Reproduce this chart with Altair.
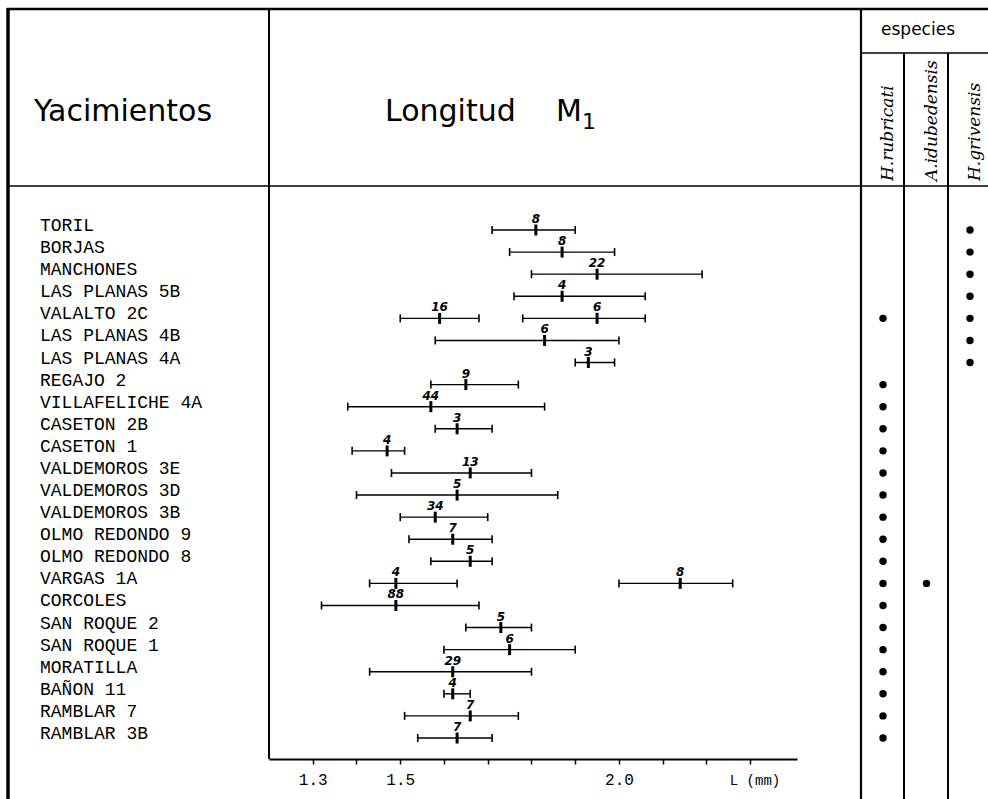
import altair as alt
import pandas as pd

# ---------------- data ----------------
sites = ["TORIL", "BORJAS", "MANCHONES", "LAS PLANAS 5B", "VALALTO 2C",
         "LAS PLANAS 4B", "LAS PLANAS 4A", "REGAJO 2", "VILLAFELICHE 4A",
         "CASETON 2B", "CASETON 1", "VALDEMOROS 3E", "VALDEMOROS 3D",
         "VALDEMOROS 3B", "OLMO REDONDO 9", "OLMO REDONDO 8", "VARGAS 1A",
         "CORCOLES", "SAN ROQUE 2", "SAN ROQUE 1", "MORATILLA", "BAÑON 11",
         "RAMBLAR 7", "RAMBLAR 3B"]

bar_site = ["TORIL", "BORJAS", "MANCHONES", "LAS PLANAS 5B", "VALALTO 2C",
            "VALALTO 2C", "LAS PLANAS 4B", "LAS PLANAS 4A", "REGAJO 2",
            "VILLAFELICHE 4A", "CASETON 2B", "CASETON 1", "VALDEMOROS 3E",
            "VALDEMOROS 3D", "VALDEMOROS 3B", "OLMO REDONDO 9", "OLMO REDONDO 8",
            "VARGAS 1A", "VARGAS 1A", "CORCOLES", "SAN ROQUE 2", "SAN ROQUE 1",
            "MORATILLA", "BAÑON 11", "RAMBLAR 7", "RAMBLAR 3B"]
bar_min = [1.71, 1.75, 1.80, 1.76, 1.50, 1.78, 1.58, 1.90, 1.57, 1.38, 1.58, 1.39, 1.48,
           1.40, 1.50, 1.52, 1.57, 1.43, 2.00, 1.32, 1.65, 1.60, 1.43, 1.60, 1.51, 1.54]
bar_mean = [1.81, 1.87, 1.95, 1.87, 1.59, 1.95, 1.83, 1.93, 1.65, 1.57, 1.63, 1.47, 1.66,
            1.63, 1.58, 1.62, 1.66, 1.49, 2.14, 1.49, 1.73, 1.75, 1.62, 1.62, 1.66, 1.63]
bar_max = [1.90, 1.99, 2.19, 2.06, 1.68, 2.06, 2.00, 1.99, 1.77, 1.83, 1.71, 1.51, 1.80,
           1.86, 1.70, 1.71, 1.71, 1.63, 2.26, 1.68, 1.80, 1.90, 1.80, 1.66, 1.77, 1.71]
bar_n = [8, 8, 22, 4, 16, 6, 6, 3, 9, 44, 3, 4, 13, 5, 34, 7, 5, 4, 8, 88, 5, 6, 29, 4, 7, 7]

species = ["H.rubricati", "A.idubedensis", "H.grivensis"]
rubricati_sites = ["VALALTO 2C", "REGAJO 2", "VILLAFELICHE 4A", "CASETON 2B", "CASETON 1",
                   "VALDEMOROS 3E", "VALDEMOROS 3D", "VALDEMOROS 3B", "OLMO REDONDO 9",
                   "OLMO REDONDO 8", "VARGAS 1A", "CORCOLES", "SAN ROQUE 2", "SAN ROQUE 1",
                   "MORATILLA", "BAÑON 11", "RAMBLAR 7", "RAMBLAR 3B"]
idubedensis_sites = ["VARGAS 1A"]
grivensis_sites = ["TORIL", "BORJAS", "MANCHONES", "LAS PLANAS 5B", "VALALTO 2C",
                   "LAS PLANAS 4B", "LAS PLANAS 4A"]

tick_values = [1.3, 1.4, 1.5, 1.6, 1.7, 1.8, 1.9, 2.0, 2.1, 2.2, 2.3]
tick_labels = [1.3, 1.5, 2.0]

# ---------------- tables ----------------
bars = pd.DataFrame({"site": bar_site, "lo": bar_min, "mean": bar_mean,
                     "hi": bar_max, "n": bar_n})
presence = pd.DataFrame(
    [{"site": s, "species": species[0]} for s in rubricati_sites]
    + [{"site": s, "species": species[1]} for s in idubedensis_sites]
    + [{"site": s, "species": species[2]} for s in grivensis_sites]
)
site_df = pd.DataFrame({"site": sites})
species_df = pd.DataFrame({"species": species})
one = pd.DataFrame({"k": [0]})

# ---------------- scales ----------------
xs = alt.Scale(domain=[1.2, 2.407], range=[269, 797], nice=False, zero=False)
ys = alt.Scale(type="point", domain=sites, range=[230, 738], padding=0)
ss = alt.Scale(type="point", domain=species, range=[883, 970], padding=0)

cond = " || ".join("abs(datum.value - %s) < 0.001" % v for v in tick_labels)
label_expr = "(" + cond + ") ? format(datum.value, '.1f') : ''"
xaxis = alt.Axis(values=tick_values, labelExpr=label_expr, tickSize=5, tickWidth=1.5,
                 domainWidth=2.2, domainColor="black", tickColor="black",
                 labelColor="black", labelFont="Liberation Mono", labelFontSize=16,
                 labelPadding=7, grid=False, title=None, labelFlush=False)

X_lo = alt.X("lo:Q", scale=xs, axis=xaxis)
Y_site = alt.Y("site:N", scale=ys, axis=None)

rng = alt.Chart(bars).mark_rule(color="black", strokeWidth=1.4).encode(
    x=X_lo, x2="hi:Q", y=Y_site)
cap_lo = alt.Chart(bars).mark_tick(color="black", orient="vertical", size=8, thickness=1.6,
                                   opacity=1).encode(x=X_lo, y=Y_site)
cap_hi = alt.Chart(bars).mark_tick(color="black", orient="vertical", size=8, thickness=1.6,
                                   opacity=1).encode(x=alt.X("hi:Q", scale=xs, axis=xaxis), y=Y_site)
mean_tick = alt.Chart(bars).mark_tick(color="black", orient="vertical", size=11, thickness=3,
                                      opacity=1).encode(x=alt.X("mean:Q", scale=xs, axis=xaxis), y=Y_site)
n_text = alt.Chart(bars).mark_text(font="DejaVu Sans", fontSize=12, fontStyle="italic",
                                   fontWeight="bold", dy=-11, baseline="middle",
                                   color="black").encode(
    x=alt.X("mean:Q", scale=xs, axis=xaxis), y=Y_site, text="n:Q")
main = alt.layer(rng, cap_lo, cap_hi, mean_tick, n_text)

dots = alt.Chart(presence).mark_circle(size=55, color="black", opacity=1).encode(
    x=alt.X("species:N", scale=ss, axis=None), y=Y_site)
sp_lab = alt.Chart(species_df).mark_text(font="DejaVu Serif", fontStyle="italic",
                                         fontSize=17, angle=270, align="left",
                                         baseline="middle", dy=5, color="black").encode(
    x=alt.X("species:N", scale=ss, axis=None), y=alt.value(181), text="species:N")
spec = alt.layer(dots, sp_lab)

names = alt.Chart(site_df).mark_text(font="Liberation Mono", fontSize=18, align="left",
                                     baseline="alphabetic", dy=1, color="black").encode(
    x=alt.value(40), y=Y_site, text="site:N")


def rule(x1, x2, y1, y2, w):
    return alt.Chart(one).mark_rule(color="black", strokeWidth=w).encode(
        x=alt.value(x1), x2=alt.value(x2), y=alt.value(y1), y2=alt.value(y2))


def label(txt, x, y, size, font="DejaVu Sans", align="center", **kw):
    return alt.Chart(one).mark_text(text=txt, font=font, fontSize=size, align=align,
                                    baseline="alphabetic", color="black", **kw).encode(
        x=alt.value(x), y=alt.value(y))


frame = [
    rule(7, 988, 9, 9, 2.5),
    rule(8, 8, 8, 799, 3.5),
    rule(8, 988, 186, 186, 1.6),
    rule(269, 269, 8, 759, 2),
    rule(861, 861, 8, 799, 2.2),
    rule(861, 988, 53, 53, 1.6),
    rule(904, 904, 53, 799, 2),
    rule(948, 948, 53, 799, 2),
]
heads = [
    label("Yacimientos", 123, 121, 30),
    label("Longitud", 385, 121, 30, align="left"),
    label("M", 556, 121, 30, align="left"),
    label("1", 582, 129, 22, align="left"),
    label("especies", 918, 35, 17),
    label("L  (mm)", 755, 785, 14, font="Liberation Mono"),
]

chart = alt.layer(*frame, *heads, main, spec, names).resolve_scale(x="independent").properties(
    width=988, height=759,
    padding={"left": 0, "top": 0, "right": 0, "bottom": 40},
    autosize=alt.AutoSizeParams(type="none"),
    background="white",
).configure_view(strokeWidth=0)

chart.save("out.html", embed_options={"renderer": "svg", "actions": False})
